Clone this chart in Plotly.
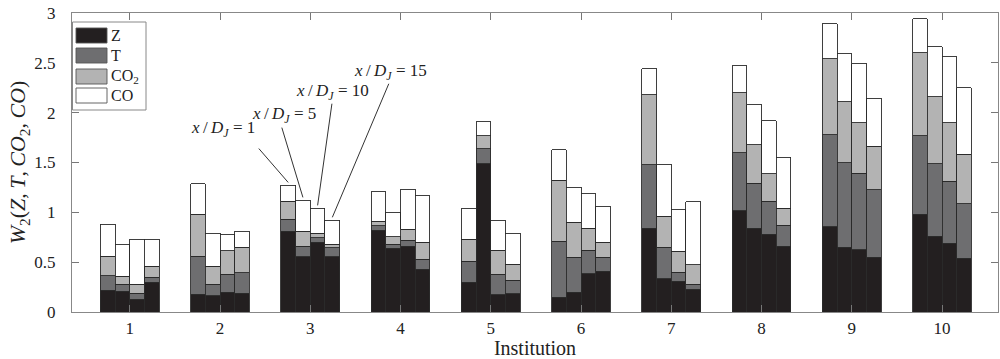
import plotly.graph_objects as go

# ---- data ----
institutions = [1, 2, 3, 4, 5, 6, 7, 8, 9, 10]
stations = [1, 5, 10, 15]  # x/D_J for the four bars in each group

Z = [[0.22, 0.21, 0.13, 0.30],
     [0.18, 0.165, 0.20, 0.19],
     [0.81, 0.555, 0.70, 0.555],
     [0.82, 0.64, 0.66, 0.43],
     [0.30, 1.49, 0.175, 0.185],
     [0.15, 0.20, 0.385, 0.41],
     [0.84, 0.335, 0.31, 0.23],
     [1.017, 0.84, 0.78, 0.66],
     [0.855, 0.65, 0.625, 0.55],
     [0.98, 0.76, 0.69, 0.54]]
T = [[0.145, 0.07, 0.06, 0.05],
     [0.38, 0.115, 0.18, 0.205],
     [0.12, 0.105, 0.045, 0.09],
     [0.045, 0.04, 0.06, 0.10],
     [0.21, 0.15, 0.205, 0.135],
     [0.56, 0.35, 0.235, 0.14],
     [0.635, 0.315, 0.09, 0.05],
     [0.583, 0.45, 0.33, 0.21],
     [0.925, 0.85, 0.765, 0.675],
     [0.79, 0.73, 0.62, 0.545]]
CO2 = [[0.195, 0.08, 0.09, 0.11],
       [0.42, 0.18, 0.235, 0.255],
       [0.18, 0.15, 0.045, 0.035],
       [0.045, 0.076, 0.11, 0.17],
       [0.22, 0.13, 0.24, 0.16],
       [0.61, 0.35, 0.22, 0.15],
       [0.705, 0.31, 0.21, 0.195],
       [0.60, 0.39, 0.275, 0.17],
       [0.76, 0.61, 0.51, 0.44],
       [0.83, 0.67, 0.59, 0.50]]
CO = [[0.32, 0.32, 0.45, 0.27],
      [0.305, 0.33, 0.165, 0.16],
      [0.16, 0.31, 0.25, 0.24],
      [0.295, 0.244, 0.40, 0.465],
      [0.305, 0.14, 0.30, 0.31],
      [0.31, 0.35, 0.345, 0.36],
      [0.26, 0.52, 0.42, 0.63],
      [0.27, 0.40, 0.535, 0.515],
      [0.35, 0.48, 0.59, 0.48],
      [0.34, 0.50, 0.66, 0.665]]

series_names = ["Z", "T", "CO<sub>2</sub>", "CO"]
series_data = [Z, T, CO2, CO]
colors = ["#231f20", "#6e6e70", "#b3b3b3", "#ffffff"]

# ---- layout constants ----
BW = 0.163
offsets = [-1.5 * BW, -0.5 * BW, 0.5 * BW, 1.5 * BW]
FONT = "Liberation Serif"
TS = "\u2009"  # thin space

xs = [inst + off for inst in institutions for off in offsets]

fig = go.Figure()
for name, data, col in zip(series_names, series_data, colors):
    fig.add_trace(go.Bar(
        x=xs,
        y=[v for row in data for v in row],
        width=BW,
        name=name,
        marker=dict(color=col, line=dict(color="#2a2a2a", width=0.9)),
        showlegend=False,
    ))

fig.update_layout(
    barmode="stack",
    width=1000, height=359,
    margin=dict(l=72, r=2, t=13, b=47),
    plot_bgcolor="white", paper_bgcolor="white",
    font=dict(family=FONT, size=17, color="#222"),
)
fig.update_xaxes(
    range=[0.36, 10.62], tickmode="array", tickvals=institutions,
    ticktext=[str(i) for i in institutions], automargin=False,
    ticks="inside", ticklen=7, tickcolor="#777", showgrid=False, zeroline=False,
    showline=True, linecolor="#888", linewidth=1, mirror="ticks",
    title=dict(text="Institution", font=dict(family=FONT, size=20), standoff=4),
    tickfont=dict(family=FONT, size=17), ticklabelstandoff=1,
    ticklabeloverflow="allow",
)
fig.update_yaxes(
    range=[0, 3], tickmode="array", tickvals=[0, 0.5, 1, 1.5, 2, 2.5, 3],
    ticktext=["0", "0.5", "1", "1.5", "2", "2.5", "3"], automargin=False,
    ticks="inside", ticklen=7, tickcolor="#777", showgrid=False, zeroline=False,
    showline=True, linecolor="#888", linewidth=1, mirror="ticks",
    title=dict(text=f"<i>W</i><sub>2</sub>(<i>Z</i>,{TS}<i>T</i>,{TS}<i>CO</i><sub>2</sub>,{TS}<i>CO</i>)",
               font=dict(family=FONT, size=22), standoff=2),
    tickfont=dict(family=FONT, size=17), ticklabelstandoff=12,
    ticklabeloverflow="allow",
)

# ---- custom legend (upper left) ----
def px2paper(px, py):
    return (px - 72) / 926.0, (312 - py) / 299.0

bx0, by0 = px2paper(72.5, 22)
bx1, by1 = px2paper(146, 110)
fig.add_shape(type="rect", xref="paper", yref="paper", x0=bx0, y0=by1, x1=bx1, y1=by0,
              line=dict(color="#888", width=1), fillcolor="white", layer="above")
legend_rows = [35.5, 55.5, 76.5, 95.5]
for name, col, cy in zip(series_names, colors, legend_rows):
    rx0, ry0 = px2paper(76, cy - 7.5)
    rx1, ry1 = px2paper(107, cy + 7.5)
    fig.add_shape(type="rect", xref="paper", yref="paper", x0=rx0, y0=ry1, x1=rx1, y1=ry0,
                  line=dict(color="#555", width=0.9), fillcolor=col, layer="above")
    tx, ty = px2paper(109, cy)
    fig.add_annotation(xref="paper", yref="paper", x=tx, y=ty, text=name, showarrow=False,
                       xanchor="left", yanchor="middle", font=dict(family=FONT, size=16, color="#222"))

# ---- x/D_J callouts pointing to institution 3 bars ----
label_pos = [(2.03, 1.84), (2.71, 1.98), (3.25, 2.21), (3.89, 2.41)]
tail_pos = [(2.43, 1.64), (2.685, 1.85), (3.24, 2.09), (3.87, 2.29)]
inst_idx = institutions.index(3)
for j, st in enumerate(stations):
    tip_x = 3 + offsets[j]
    tip_y = Z[inst_idx][j] + T[inst_idx][j] + CO2[inst_idx][j] + CO[inst_idx][j] + 0.03
    fig.add_shape(type="line", xref="x", yref="y", x0=tail_pos[j][0], y0=tail_pos[j][1],
                  x1=tip_x, y1=tip_y, line=dict(color="#333", width=1))
    fig.add_annotation(x=label_pos[j][0], y=label_pos[j][1], xref="x", yref="y",
                       text=f"<i>x</i>{TS}/{TS}<i>D</i><sub><i>J</i></sub> = {st}", showarrow=False,
                       font=dict(family=FONT, size=17, color="#222"))

fig.write_html("out.html", config={"displayModeBar": False},
               post_script="document.body.style.margin='0';document.body.style.overflow='hidden';")
